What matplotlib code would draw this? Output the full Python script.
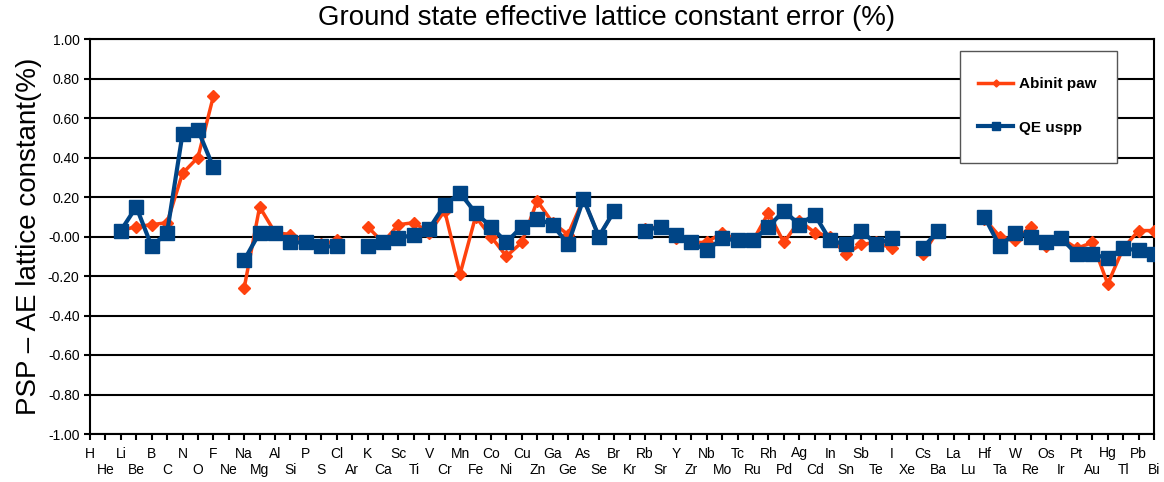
import numpy as np
import matplotlib
matplotlib.use("Agg")
import matplotlib.pyplot as plt
from matplotlib.patches import Rectangle

plt.rcParams['font.family'] = ['Liberation Sans', 'DejaVu Sans']

elements = ["H", "He", "Li", "Be", "B", "C", "N", "O", "F", "Ne",
            "Na", "Mg", "Al", "Si", "P", "S", "Cl", "Ar", "K", "Ca",
            "Sc", "Ti", "V", "Cr", "Mn", "Fe", "Co", "Ni", "Cu", "Zn",
            "Ga", "Ge", "As", "Se", "Br", "Kr", "Rb", "Sr", "Y", "Zr",
            "Nb", "Mo", "Tc", "Ru", "Rh", "Pd", "Ag", "Cd", "In", "Sn",
            "Sb", "Te", "I", "Xe", "Cs", "Ba", "La", "Lu", "Hf", "Ta",
            "W", "Re", "Os", "Ir", "Pt", "Au", "Hg", "Tl", "Pb", "Bi"]

nan = np.nan
abinit_paw = [nan, nan, 0.03, 0.05, 0.06, 0.07, 0.32, 0.40, 0.71, nan,
              -0.26, 0.15, 0.02, 0.01, -0.03, -0.04, -0.02, nan, 0.05, -0.03,
              0.06, 0.07, 0.02, 0.13, -0.19, 0.10, 0.00, -0.10, -0.03, 0.18,
              0.07, 0.01, 0.19, 0.00, 0.13, nan, 0.04, 0.05, -0.01, -0.03,
              -0.03, 0.02, -0.02, -0.02, 0.12, -0.03, 0.08, 0.02, 0.00, -0.09,
              -0.04, -0.03, -0.06, nan, -0.09, 0.03, nan, nan, 0.09, 0.00,
              -0.02, 0.05, -0.05, -0.01, -0.06, -0.03, -0.24, -0.06, 0.03, 0.03]
qe_uspp = [nan, nan, 0.03, 0.15, -0.05, 0.02, 0.52, 0.54, 0.35, nan,
           -0.12, 0.02, 0.02, -0.03, -0.03, -0.05, -0.05, nan, -0.05, -0.03,
           -0.01, 0.01, 0.04, 0.16, 0.22, 0.12, 0.05, -0.03, 0.05, 0.09,
           0.06, -0.04, 0.19, 0.00, 0.13, nan, 0.03, 0.05, 0.01, -0.03,
           -0.07, -0.01, -0.02, -0.02, 0.05, 0.13, 0.06, 0.11, -0.02, -0.04,
           0.03, -0.04, -0.01, nan, -0.06, 0.03, nan, nan, 0.10, -0.05,
           0.02, 0.00, -0.03, -0.01, -0.09, -0.09, -0.11, -0.06, -0.07, -0.09]

W, H = 1164, 482
fig = plt.figure(figsize=(W / 100, H / 100), dpi=100)
ax = fig.add_axes([90 / W, 1 - 434 / H, 1064 / W, 395 / H])

x = np.arange(len(elements))
ax.plot(x, abinit_paw, color='#ff420e', lw=2.5, marker='D', ms=6,
        label='Abinit paw', zorder=3)
ax.plot(x, qe_uspp, color='#004586', lw=3, marker='s', ms=9.5,
        label='QE uspp', zorder=4)

ax.set_xlim(0, len(elements) - 1)
ax.set_ylim(-1, 1)
ax.set_yticks(np.arange(-1, 1.01, 0.2))
ax.yaxis.set_major_formatter(matplotlib.ticker.FormatStrFormatter('%.2f'))
ax.grid(axis='y', which='major', color='black', lw=1.5)
ax.set_axisbelow(True)

# element labels alternate between two rows: even ones on major ticks, odd on minor
ax.set_xticks(x[::2])
ax.set_xticklabels(elements[::2])
ax.set_xticks(x[1::2], minor=True)
ax.set_xticklabels(elements[1::2], minor=True)
ax.tick_params(axis='both', which='both', labelsize=10, width=1.5, length=4, color='black')
ax.tick_params(axis='x', which='major', pad=5)
ax.tick_params(axis='x', which='minor', pad=17)
for s in ax.spines.values():
    s.set_linewidth(1.5)

fig.text(607 / W, 1 - 18 / H, 'Ground state effective lattice constant error (%)',
         fontsize=19.9, ha='center', va='center')
ax.set_ylabel('PSP \u2013 AE lattice constant(%)', fontsize=20, labelpad=4)

# legend box
ax.add_patch(Rectangle((960 / W, 1 - 163 / H), 157 / W, 112 / H, transform=fig.transFigure,
                       facecolor='white', edgecolor='#555555', lw=1, zorder=5, clip_on=False))
leg = ax.legend(loc='upper left', bbox_to_anchor=(978 / W, 1 - 77 / H),
                bbox_transform=fig.transFigure, frameon=False, markerscale=0.6,
                prop={'weight': 'bold', 'size': 11}, labelspacing=1.95,
                borderpad=0, handlelength=2.3, handletextpad=0.4, borderaxespad=0)
leg.set_zorder(6)

fig.savefig('out.png', dpi=100)
